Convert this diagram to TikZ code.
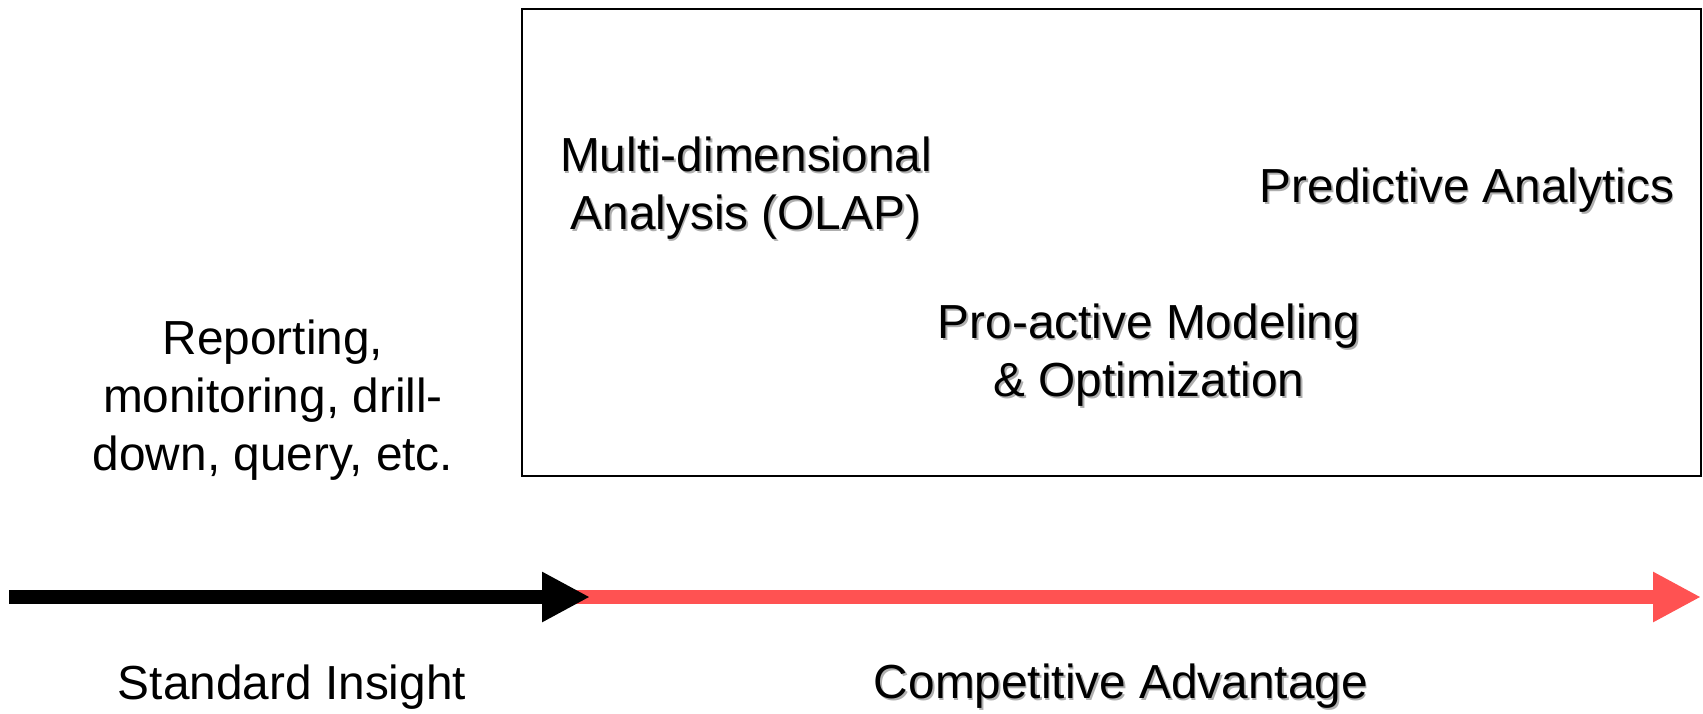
\documentclass[tikz,border=0pt]{standalone}
\usepackage{fontspec}
\setmainfont{Liberation Sans}
\usetikzlibrary{arrows.meta}
\definecolor{barred}{RGB}{255,82,82}
\definecolor{shadowgray}{RGB}{175,175,175}
\newcommand{\shd}[1]{\leavevmode\rlap{\kern0.9pt\raisebox{-0.9pt}{\textcolor{shadowgray}{#1}}}#1}

\begin{document}
\begin{tikzpicture}[
    x=0.02cm, y=-0.02cm,
    txt/.style={font=\fontsize{27.2}{33}\selectfont, align=center, inner sep=0pt},
    timeline/.style={line width=8.5pt, -{Triangle[length=27.3pt, width=26.7pt]}}
]
    \useasboundingbox (0,0) rectangle (1703,713);

    % panel of advanced analytics
    \draw[line width=1.1pt] (522,9) rectangle (1701,476);

    \node[txt] (olap) at (746,189) {\shd{Multi-dimensional}\\\shd{Analysis (OLAP)}};
    \node[txt] (predict) at (1467,191) {\shd{Predictive Analytics}};
    \node[txt] (model) at (1149,356) {\shd{Pro-active Modeling}\\\shd{\& Optimization}};
    \node[txt] (report) at (273,400) {Reporting,\\monitoring, drill-\\down, query, etc.};

    % time line
    \coordinate (origin) at (9,597);
    \coordinate (split) at (560,597);
    \coordinate (handover) at (590,597);
    \coordinate (horizon) at (1701,597);
    \draw[timeline, barred] (split) -- (horizon);
    \draw[timeline, black] (origin) -- (handover);

    \node[txt] (standard) at (292,687) {Standard Insight};
    \node[txt] (advantage) at (1121,687) {\shd{Competitive Advantage}};
\end{tikzpicture}
\end{document}
